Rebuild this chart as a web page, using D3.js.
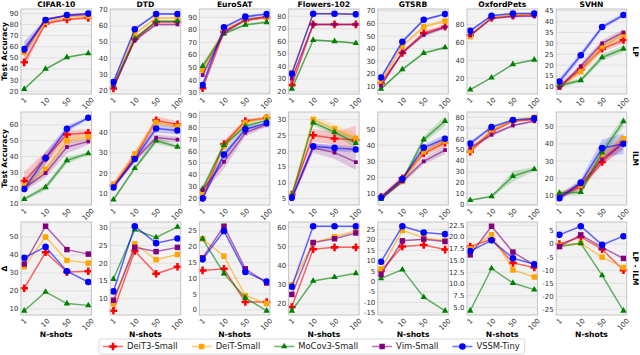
<!DOCTYPE html>
<html><head><meta charset="utf-8">
<script src="https://cdn.jsdelivr.net/npm/d3@7"></script>
<style>body{margin:0;background:#fff;} svg{display:block;font-family:"DejaVu Sans",sans-serif;}</style>
</head><body><svg id="c" width="640" height="355"></svg>
<script>
const datasets = ["CIFAR-10","DTD","EuroSAT","Flowers-102","GTSRB","OxfordPets","SVHN"];
const shots = ["1","10","50","100"];
const models = ["DeiT3-Small","DeiT-Small","MoCov3-Small","Vim-Small","VSSM-Tiny"];
const colors = ["#ff0000","#ffa500","#008000","#800080","#0000ff"];
const rowLabels = ["LP","ILM","LP - ILM"];
const yLabels = ["Test Accuracy","Test Accuracy","Δ"];

// LP test accuracy: one [1,10,50,100] array per dataset
const lpDeiT3 = [[46,81,84.5,86],[21,52,62.5,62.5],[33.5,78.5,87.5,90],[25,73.5,73.5,73.5],[12.5,36.5,52.5,57.5],[68,87.5,90,91],[10.5,18,27.5,31.5]];
const lpDeiT  = [[55,82,87,87.5],[23,55,65,65],[48,80,88,90],[35,82,82,81.5],[14,42,57.5,62],[66.5,88,91,91.5],[10,17,28.5,34]];
const lpMoCo  = [[22,40,50.5,54],[23,52,63,63],[51,77,84,86],[22,61,60,58.5],[8,23.5,36.5,41],[7,20.5,35.5,40.5],[10.5,13,23.5,27.5]];
const lpVim   = [[56,85,88,89],[22,51,61,61],[44,78,88,90.5],[30,73.5,73.5,73.5],[10.5,37,51,57],[68,87,89,89.5],[9.5,19.5,30,35]];
const lpVSSM  = [[58,84,88.5,90],[25,58,67.5,67.5],[36,82,90.5,92.5],[34,82,82,81.5],[17,45.5,63,67.5],[73,90,92.5,92.5],[12.5,24.5,37.5,43]];
// LP spread
const lpStdDeiT3 = [[5,1.5,1,1],[1,1,0.7,0.7],[1.5,1.5,1,1],[1.5,0.7,0.7,0.7],[1.5,1.5,1.5,1.5],[1.5,1,0.7,0.7],[1,1.5,1.5,1.5]];
const lpStdDeiT  = [[3,1,1,1],[1,1,0.7,0.7],[4,1.5,1,1],[1.5,0.7,0.7,0.7],[1.5,1.5,1.5,1.5],[1.5,1,0.7,0.7],[1,1.5,2,2]];
const lpStdMoCo  = [[1,1,0.5,0.5],[1,1,0.7,0.7],[3,1.5,1,1],[1,0.7,0.7,0.7],[1,1,1,1],[0.5,0.5,0.5,0.5],[1,1,1.5,1.5]];
const lpStdVim   = [[5,1,0.5,0.5],[1,1,0.7,0.7],[3,1.5,1,1],[1.5,0.7,0.7,0.7],[1.5,1.5,1.5,1.5],[1.5,1,0.7,0.7],[1,1.5,1.5,1.5]];
const lpStdVSSM  = [[7,1,0.5,0.5],[1,1,0.7,0.7],[2,1,1,1],[1.5,0.7,0.7,0.7],[1.5,1.5,1,1],[1.5,1,0.7,0.7],[1.5,1.5,1,1]];

// ILM test accuracy
const ilmDeiT3 = [[24.5,39,54,55],[14,28,46,44],[20.5,66,85.5,88],[6.3,25,24,23.5],[8,19.5,35,41.5],[48.5,67,76.5,78],[10,15,29.5,41]];
const ilmDeiT  = [[21.5,32,50,52.5],[14.5,29.5,45,43],[25,64,84,88.5],[6,30,27,24],[7.5,17.5,36,42.5],[49.5,68.5,77,80],[10,16,33.5,43]];
const ilmMoCo  = [[13,20.5,37.5,42],[7,22.5,36,33],[28,65,81,86],[6,29,26,22.5],[6.5,18,43.5,55],[4,7.5,26,32.5],[11.5,12,35,53]];
const ilmVim   = [[20,29.5,46,49.5],[13.5,26.5,37.5,36.5],[27,51,75.5,82.5],[4.8,21,19.5,16.5],[7,17.5,30,37],[52,64,72.5,76.5],[9.5,16.5,31,40.5]];
const ilmVSSM  = [[19.5,39,57.5,64.5],[13,27,42,41],[20,57,78.5,83.5],[5.3,21.5,21,20.5],[7.5,19,38.5,44],[56,71,77.5,79],[8.5,17.5,37.5,40]];
const ilmStdDeiT3 = [[6,4,3,2],[1,2,2,1.5],[2,3,2,1],[0.5,2,2,4.5],[1,1.5,2,2.5],[2,1.5,1,1],[1.5,2,2,3]];
const ilmStdDeiT  = [[3,3,3,2],[1,2,1.5,1],[3,4,2,1],[0.5,1,1.5,1.5],[1,1.5,2,2.5],[2,1.5,1,1],[1.5,2,2,3]];
const ilmStdMoCo  = [[1,2,2,1],[0.5,1,1.5,1],[3,3,2,1],[0.5,1,1,1.5],[1,1.5,2,3],[0.5,1,5,2],[1.5,1.5,3,3]];
const ilmStdVim   = [[2,3,4,2],[1,1.5,1.5,1.5],[3,6,3,2],[0.5,1.5,2,2.5],[1,1.5,2,2.5],[2,1.5,1,1],[1.5,2,3,4]];
const ilmStdVSSM  = [[3,4,2,1],[1,1.5,2,2],[2,3,2,1],[0.5,1,1,1],[1,1.5,2,2.5],[2,1.5,1,1],[1.5,2,5,6]];

// LP - ILM difference
const dDeiT3 = [[21.5,41.5,30.5,31],[6.5,23.5,17,19],[12.5,13,2.5,2.5],[18.5,48.5,49.5,49.5],[5,16.8,17.5,15.3],[18,19.5,14.5,13.5],[0,2.7,-2,-10]];
const dDeiT  = [[33.5,50,37,35.5],[8.5,25.5,21,22.5],[22.5,17,4.5,2],[30,52,55,58],[6,24.5,21,19.5],[17.5,20.5,13,11.5],[-0.5,0.3,-5,-9]];
const dMoCo  = [[9,19.5,13,12],[15.5,29.5,27.3,30.3],[22.5,11.5,3.8,-0.3],[16.5,32,34,36],[1.5,5.7,-7.5,-14],[4.3,13.3,10.2,8.8],[-1,0.3,-12,-25.5]];
const dVim   = [[35,56,43,40.5],[9.5,24.5,23.3,24.5],[16.5,26.5,13,8.5],[25,52,54,57],[3.5,19.5,20.3,19.2],[16.2,22.3,16.8,14],[-1,3.5,-1.3,-5.5]];
const dVSSM  = [[38.5,44.5,31,25],[12,30.5,25.7,27],[16,25,12,9],[29,60.5,60.5,60.5],[9.5,26.5,23.5,22.7],[17,19.3,15.5,14.2],[3.5,6.8,-0.3,3]];

// tick labels per row, per dataset
const ticksLP = [[20,30,40,50,60,70,80,90],[20,30,40,50,60,70],[30,40,50,60,70,80,90],[20,30,40,50,60,70,80],[10,20,30,40,50,60,70],[20,40,60,80],[10,15,20,25,30,35,40,45]];
const ticksILM = [[10,20,30,40,50,60],[10,20,30,40],[20,30,40,50,60,70,80,90],[5,10,15,20,25,30],[10,20,30,40,50],[0,10,20,30,40,50,60,70,80],[10,20,30,40,50]];
const ticksD = [[10,20,30,40,50],[10,15,20,25,30],[0,5,10,15,20,25],[20,30,40,50,60],[-15,-10,-5,0,5,10,15,20,25],[5,7.5,10,12.5,15,17.5,20,22.5],[-25,-20,-15,-10,-5,0,5]];

const rows = [
  {means:[lpDeiT3,lpDeiT,lpMoCo,lpVim,lpVSSM], stds:[lpStdDeiT3,lpStdDeiT,lpStdMoCo,lpStdVim,lpStdVSSM], ticks:ticksLP},
  {means:[ilmDeiT3,ilmDeiT,ilmMoCo,ilmVim,ilmVSSM], stds:[ilmStdDeiT3,ilmStdDeiT,ilmStdMoCo,ilmStdVim,ilmStdVSSM], ticks:ticksILM},
  {means:[dDeiT3,dDeiT,dMoCo,dVim,dVSSM], stds:null, ticks:ticksD}
];

const svg = d3.select("#c");
const rowTop = [9, 112, 222], rowH = [85, 93, 93];
const colLeft = i => 21 + i*89.2, W = 70.5;

function markerPath(m, r){
  const sizes = [32, 30, 18, r===2?30:14, 34];
  const types = [d3.symbolCross, d3.symbolSquare, d3.symbolTriangle, d3.symbolSquare, d3.symbolCircle];
  return d3.symbol().type(types[m]).size(sizes[m])();
}

rows.forEach((row, r) => {
  const gy = rowTop[r], H = rowH[r];
  datasets.forEach((ds, c) => {
    const gx = colLeft(c);
    const g = svg.append("g");
    const x = d3.scalePoint().domain(shots).range([gx, gx+W]).padding(0.15);
    let lo = Infinity, hi = -Infinity;
    row.means.forEach((ms, m) => ms[c].forEach((v, k) => {
      const s = row.stds ? row.stds[m][c][k] : 0;
      lo = Math.min(lo, v - s); hi = Math.max(hi, v + s);
    }));
    const pad = (hi - lo) * 0.05;
    const y = d3.scaleLinear().domain([lo-pad, hi+pad]).range([gy+H, gy]);
    g.append("rect").attr("x", gx).attr("y", gy).attr("width", W).attr("height", H).attr("fill", "#f2f2f2");
    const tks = row.ticks[c];
    const dec = tks.some(t => !Number.isInteger(t));
    g.selectAll(".gl").data(tks).join("line")
      .attr("x1", gx).attr("x2", gx+W).attr("y1", d=>y(d)).attr("y2", d=>y(d))
      .attr("stroke", "#dcdcdc").attr("stroke-width", 0.8);
    g.selectAll(".yt").data(tks).join("text")
      .attr("x", gx-2.5).attr("y", d=>y(d)).attr("dy","0.35em")
      .attr("text-anchor","end").attr("font-size", 7).attr("fill","#333")
      .text(d => dec ? d.toFixed(1) : d);
    if (row.stds) {
      row.means.forEach((ms, m) => {
        const pts = ms[c].map((v,k)=>({k, v, s: row.stds[m][c][k]}));
        g.append("path").datum(pts)
          .attr("d", d3.area().x(d=>x(shots[d.k])).y0(d=>y(d.v-d.s)).y1(d=>y(d.v+d.s)))
          .attr("fill", colors[m]).attr("fill-opacity", 0.18);
      });
    }
    row.means.forEach((ms, m) => {
      const pts = ms[c].map((v,k)=>({k, v}));
      g.append("path").datum(pts)
        .attr("d", d3.line().x(d=>x(shots[d.k])).y(d=>y(d.v)))
        .attr("fill","none").attr("stroke", colors[m]).attr("stroke-opacity", 0.6).attr("stroke-width", 1.5);
      g.selectAll(null).data(pts).join("path")
        .attr("d", markerPath(m, r))
        .attr("transform", d => `translate(${x(shots[d.k])},${y(d.v)})`)
        .attr("fill", colors[m]);
    });
    g.append("rect").attr("x", gx).attr("y", gy).attr("width", W).attr("height", H)
      .attr("fill","none").attr("stroke","#c4c4c4").attr("stroke-width",1);
    shots.forEach(s => {
      const t = g.append("text").attr("font-size", 7).attr("fill","#333")
        .attr("text-anchor","middle").attr("dominant-baseline","central").text(s);
      const w = t.node().getComputedTextLength();
      const bh = (w + 7) * 0.7071;
      t.attr("transform", `translate(${x(s)},${gy+H+2.5+bh/2}) rotate(-45)`);
    });
    if (r === 0) {
      g.append("text").attr("x", gx+W/2).attr("y", gy-2.5).attr("text-anchor","middle")
        .attr("font-size", 7.6).attr("font-weight","bold").text(ds);
    }
    if (r === 2) {
      g.append("text").attr("x", gx+W/2).attr("y", 336.5).attr("text-anchor","middle")
        .attr("font-size", 7.6).attr("font-weight","bold").text("N-shots");
    }
  });
  svg.append("text").attr("transform", `translate(4.5,${gy+H/2}) rotate(-90)`)
    .attr("text-anchor","middle").attr("dominant-baseline","central")
    .attr("font-size", 7.6).attr("font-weight","bold").text(yLabels[r]);
  svg.append("text").attr("transform", `translate(635,${gy+H/2}) rotate(90)`)
    .attr("text-anchor","middle").attr("dominant-baseline","central")
    .attr("font-size", 7.6).attr("font-weight","bold").text(rowLabels[r]);
});

// legend
const lg = svg.append("g");
const box = lg.append("rect").attr("y", 339).attr("height", 15).attr("rx", 2)
  .attr("fill","#fff").attr("stroke","#d0d0d0").attr("stroke-width",0.8);
let lx = 103;
models.forEach((name, m) => {
  const cy = 346.5;
  lg.append("line").attr("x1", lx).attr("x2", lx+20).attr("y1", cy).attr("y2", cy)
    .attr("stroke", colors[m]).attr("stroke-opacity", 0.55).attr("stroke-width", 1.6);
  lg.append("path").attr("d", markerPath(m, 2)).attr("transform", `translate(${lx+10},${cy})`).attr("fill", colors[m]);
  const t = lg.append("text").attr("x", lx+24).attr("y", cy).attr("dy","0.35em")
    .attr("font-size", 8.4).attr("fill","#222").text(name);
  lx = lx + 24 + t.node().getComputedTextLength() + 14;
});
box.attr("x", 99).attr("width", lx - 14 - 99 + 5);
</script></body></html>
